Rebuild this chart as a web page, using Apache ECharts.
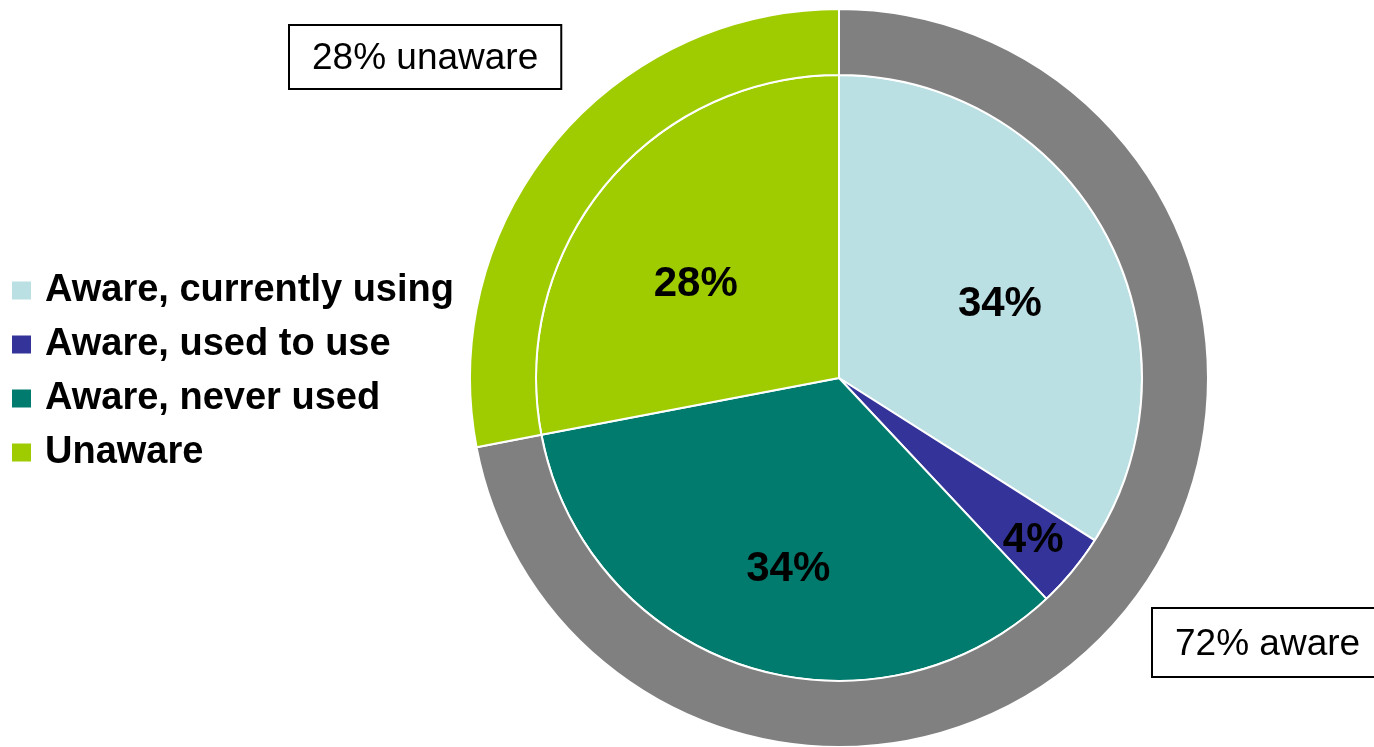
<!DOCTYPE html>
<html>
<head>
<meta charset="utf-8">
<style>
  html, body { margin: 0; padding: 0; background: #ffffff; }
  #chart { width: 1374px; height: 747px; }
</style>
<script src="https://cdn.jsdelivr.net/npm/echarts@6/dist/echarts.min.js"></script>
</head>
<body>
<div id="chart"></div>
<script>
// Awareness breakdown (percent of respondents)
const categories = ['Aware, currently using', 'Aware, used to use', 'Aware, never used', 'Unaware'];
const values = [34, 4, 34, 28];
const colors = ['#BBE0E3', '#343399', '#007B6D', '#9FCC00'];

// Outer ring groups: aware = the three "Aware" categories, unaware = the rest
const groupNames = ['aware', 'unaware'];
const groupValues = [values[0] + values[1] + values[2], values[3]];
const groupColors = ['#808080', '#9FCC00'];

const CX = 839, CY = 378;
const START_ANGLE = 90;
// distance of each inner value label from the pie centre, and a small angular nudge (deg)
const innerLabelRadius = [178, 252, 196, 172];
const innerLabelShift = [-3.5, 0, 3, 6];
// top-left corners of the two callout boxes on the outer ring
const calloutPos = [[1153, 609], [290, 26]];

const total = values.reduce((a, b) => a + b, 0);
// mid angle (deg, counter-clockwise from +x) of each inner slice, drawn clockwise from START_ANGLE
const midAngles = values.map((v, i) => {
  const before = values.slice(0, i).reduce((a, b) => a + b, 0);
  return START_ANGLE - (before + v / 2) / total * 360;
});

const chart = echarts.init(document.getElementById('chart'), null, { renderer: 'canvas' });

chart.setOption({
  animation: false,
  backgroundColor: '#ffffff',
  legend: {
    data: categories,
    orient: 'vertical',
    left: 10,
    top: 269,
    padding: 0,
    itemWidth: 21,
    itemHeight: 20,
    itemGap: 11,
    icon: 'rect',
    selectedMode: false,
    textStyle: {
      fontFamily: 'Liberation Sans, Arial, sans-serif',
      fontWeight: 'bold',
      fontSize: 38,
      lineHeight: 40,
      color: '#000000',
      padding: [3, 0, 0, 8]
    }
  },
  series: [
    {
      name: 'Awareness',
      type: 'pie',
      center: [CX, CY],
      radius: [0, 303],
      startAngle: START_ANGLE,
      clockwise: true,
      silent: true,
      itemStyle: { borderColor: '#ffffff', borderWidth: 2 },
      label: {
        show: true,
        position: 'inside',
        formatter: '{c}%',
        fontFamily: 'Liberation Sans, Arial, sans-serif',
        fontWeight: 'bold',
        fontSize: 42,
        color: '#000000'
      },
      labelLine: { show: false },
      labelLayout: function (p) {
        const i = p.dataIndex;
        const a = (midAngles[i] + innerLabelShift[i]) * Math.PI / 180;
        const r = innerLabelRadius[i];
        return { x: CX + r * Math.cos(a), y: CY - r * Math.sin(a) + 2, align: 'center', verticalAlign: 'middle' };
      },
      data: categories.map((c, i) => ({
        name: c,
        value: values[i],
        itemStyle: { color: colors[i] }
      }))
    },
    {
      name: 'Groups',
      type: 'pie',
      center: [CX, CY],
      radius: [303, 369],
      startAngle: START_ANGLE,
      clockwise: true,
      silent: true,
      itemStyle: { borderColor: '#ffffff', borderWidth: 2 },
      label: {
        show: true,
        position: 'inside',
        formatter: '{c}% {b}',
        fontFamily: 'Liberation Sans, Arial, sans-serif',
        fontSize: 37,
        lineHeight: 38,
        color: '#000000',
        backgroundColor: '#ffffff',
        borderColor: '#000000',
        borderWidth: 2,
        padding: [14, 22, 10, 22],
        overflow: 'none'
      },
      labelLine: { show: false },
      labelLayout: function (p) {
        const pos = calloutPos[p.dataIndex];
        return { x: pos[0], y: pos[1], align: 'left', verticalAlign: 'top' };
      },
      data: groupNames.map((g, i) => ({
        name: g,
        value: groupValues[i],
        itemStyle: { color: groupColors[i] },
        label: i === 0 ? { padding: [17, 22, 12, 22] } : {}
      }))
    }
  ]
});
</script>
</body>
</html>
